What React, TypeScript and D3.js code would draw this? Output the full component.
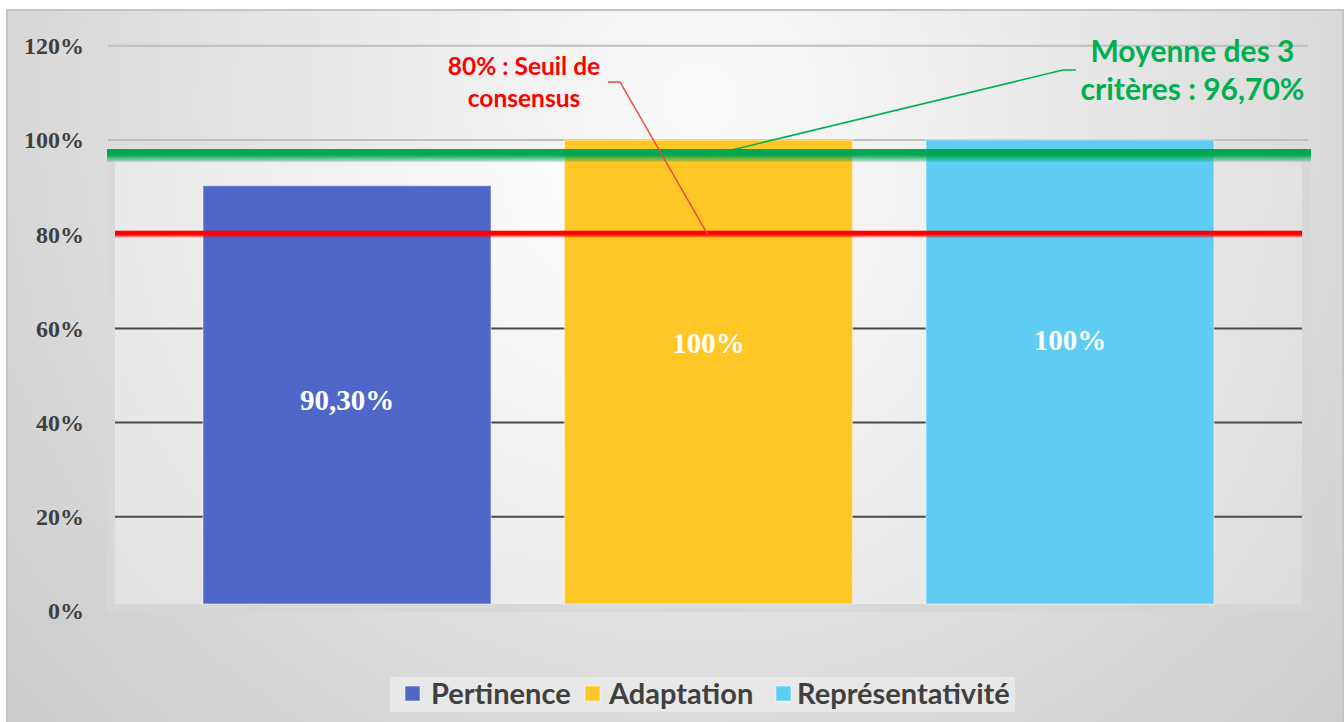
import React from "react";
import * as d3 from "d3";

const categories = ["Pertinence", "Adaptation", "Représentativité"];
const values = [0.903, 1.0, 1.0];
const valueLabels = ["90,30%", "100%", "100%"];
const labelAnchor = [0.448, 0.569, 0.576];
const colors = ["#4F67C8", "#FFC726", "#5ECCF3"];
const yTicks = [0, 0.2, 0.4, 0.6, 0.8, 1.0, 1.2];
const yTickLabels = ["0%", "20%", "40%", "60%", "80%", "100%", "120%"];
const threshold = 0.8;
const average = 0.967;
const thresholdText = ["80% : Seuil de", "consensus"];
const averageText = ["Moyenne des 3", "critères : 96,70%"];

const W = 1344;
const H = 722;

export default function App() {
  const y = d3.scaleLinear().domain([0, 1.2]).range([611, 45.8]);
  const x = d3
    .scaleBand<string>()
    .domain(categories)
    .range([166.25, 1250.75])
    .paddingInner(0.2033)
    .paddingOuter(0.1017);
  const floorY = y(0) - 7;
  const wallL = 115;
  const wallR = 1302;
  const wallTop = 162;
  const sans = "Lato, 'Open Sans', sans-serif";
  const serif = "'Liberation Serif', 'DejaVu Serif', serif";

  const gy = y(average);
  const ry = y(threshold);
  const midX = (x(categories[1]) as number) + x.bandwidth() / 2;

  const legendItems = [
    { x: 405, tx: 431 },
    { x: 585, tx: 609 },
    { x: 776, tx: 797 },
  ];

  return (
    <svg
      width={W}
      height={H}
      style={{ position: "absolute", left: 0, top: 0 }}
      viewBox={`0 0 ${W} ${H}`}
    >
      <defs>
        <radialGradient id="bg" gradientUnits="userSpaceOnUse" cx={700} cy={100} r={950}>
          <stop offset="0" stopColor="#fbfbfb" />
          <stop offset="1" stopColor="#cacaca" />
        </radialGradient>
        <radialGradient id="wall" gradientUnits="userSpaceOnUse" cx={620} cy={170} r={900}>
          <stop offset="0" stopColor="#ffffff" />
          <stop offset="1" stopColor="#d9d9d9" />
        </radialGradient>
        <linearGradient id="gfade" x1="0" x2="0" y1="0" y2="1">
          <stop offset="0" stopColor="#00A651" />
          <stop offset="0.45" stopColor="#00A651" />
          <stop offset="1" stopColor="#00A651" stopOpacity="0.15" />
        </linearGradient>
        <linearGradient id="rfade" x1="0" x2="0" y1="0" y2="1">
          <stop offset="0" stopColor="#FF0000" />
          <stop offset="0.5" stopColor="#FF0000" />
          <stop offset="1" stopColor="#FF0000" stopOpacity="0.2" />
        </linearGradient>
      </defs>

      <rect x={0} y={0} width={W} height={H} fill="#ffffff" />
      <rect x={7} y={10} width={1336} height={H} fill="url(#bg)" stroke="#c4c4c4" strokeWidth={2} />

      {/* back wall */}
      <rect x={wallL} y={wallTop} width={wallR - wallL} height={floorY - wallTop} fill="url(#wall)" opacity={0.9} />
      <rect x={107} y={wallTop} width={wallL - 107} height={y(0) - wallTop} fill="#d8d8d8" opacity={0.8} />
      <rect x={wallR} y={wallTop} width={1311 - wallR} height={y(0) - wallTop} fill="#d6d6d6" opacity={0.8} />
      <rect x={107} y={floorY} width={1311 - 107} height={8} fill="#d6d6d6" opacity={0.85} />

      {/* gridlines */}
      {yTicks.map((t, i) => {
        if (t === 0) return null;
        const upper = t >= 1.0;
        return (
          <line
            key={i}
            x1={upper ? 108 : wallL}
            x2={upper ? 1308 : wallR}
            y1={y(t)}
            y2={y(t)}
            stroke={upper ? "#bfbfbf" : "#4a4a4a"}
            strokeWidth={2}
          />
        );
      })}

      {/* bars */}
      {categories.map((c, i) => (
        <rect
          key={c}
          x={x(c)}
          y={y(values[i])}
          width={x.bandwidth()}
          height={floorY - y(values[i])}
          fill={colors[i]}
          stroke="#ffffff"
          strokeOpacity={0.35}
          strokeWidth={1.5}
        />
      ))}

      {/* y axis labels */}
      {yTicks.map((t, i) => (
        <text
          key={i}
          x={84}
          y={y(t)}
          dy="0.35em"
          textAnchor="end"
          fontFamily={serif}
          fontWeight="bold"
          fontSize={24}
          fill="#404040"
        >
          {yTickLabels[i]}
        </text>
      ))}

      {/* reference lines */}
      <rect x={107} y={gy - 6.5} width={1311 - 107} height={13} fill="url(#gfade)" />
      <rect x={wallL} y={ry - 3.5} width={wallR - wallL} height={7} fill="url(#rfade)" />

      {/* data labels */}
      {categories.map((c, i) => (
        <text
          key={c}
          x={(x(c) as number) + x.bandwidth() / 2}
          y={y(labelAnchor[i])}
          dy="0.35em"
          textAnchor="middle"
          fontFamily={serif}
          fontWeight="bold"
          fontSize={29}
          fill="#ffffff"
        >
          {valueLabels[i]}
        </text>
      ))}

      {/* leader lines */}
      <polyline
        points={`608,82 620,82 ${midX - 1},${ry}`}
        fill="none"
        stroke="#F04A3A"
        strokeWidth={1.5}
      />
      <polyline
        points={`1076,70 1063,70 ${midX},${gy}`}
        fill="none"
        stroke="#00B050"
        strokeWidth={1.5}
      />

      {/* annotations */}
      {thresholdText.map((t, i) => (
        <text
          key={i}
          x={524}
          y={75 + i * 32}
          textAnchor="middle"
          fontFamily={sans}
          fontWeight="bold"
          fontSize={24.5}
          fill="#FF0000"
        >
          {t}
        </text>
      ))}
      {averageText.map((t, i) => (
        <text
          key={i}
          x={1192.5}
          y={62 + i * 38}
          textAnchor="middle"
          fontFamily={sans}
          fontWeight="bold"
          fontSize={30}
          fill="#00B050"
        >
          {t}
        </text>
      ))}

      {/* legend */}
      <rect x={390} y={677} width={625} height={35} fill="#e8e8e8" />
      {categories.map((c, i) => (
        <g key={c}>
          <rect
            x={legendItems[i].x}
            y={686}
            width={15}
            height={15}
            fill={colors[i]}
            stroke="#ffffff"
            strokeOpacity={0.5}
            strokeWidth={1}
          />
          <text
            x={legendItems[i].tx}
            y={694}
            dy="0.35em"
            fontFamily={sans}
            fontWeight="bold"
            fontSize={29}
            fill="#404040"
          >
            {c}
          </text>
        </g>
      ))}
    </svg>
  );
}
